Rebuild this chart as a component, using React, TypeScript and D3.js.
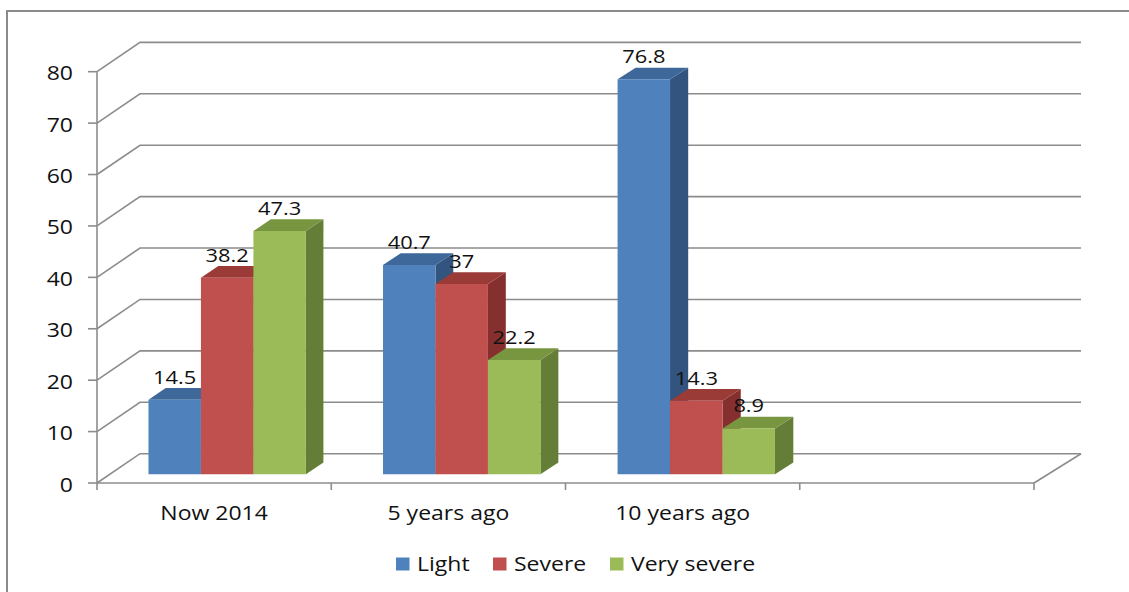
import React from "react";
import * as d3 from "d3";

// Chart data
const categories = ["Now 2014", "5 years ago", "10 years ago", ""];
const seriesNames = ["Light", "Severe", "Very severe"];
const light = [14.5, 40.7, 76.8];
const severe = [38.2, 37, 14.3];
const verySevere = [47.3, 22.2, 8.9];
const yTicks = [0, 10, 20, 30, 40, 50, 60, 70, 80];

const seriesValues = [light, severe, verySevere];

// Face colours per series: front, top, side
const palette = [
  { front: "#4F81BD", top: "#3E6899", side: "#32547E" },
  { front: "#C0504D", top: "#9B3B38", side: "#85302E" },
  { front: "#9BBB59", top: "#789540", side: "#657E37" },
];

const W = 1129;
const H = 592;

// Front plane of the plot and the depth projection
const X0 = 97;
const X1 = 1034;
const Y0 = 483;
const Y80 = 71.7;
const DEPTH_DY = -29.3;
const dxAt = (x: number) => 43 + (4 * (x - X0)) / (X1 - X0);
const BAR_FRONT_T = 0.3;
const BAR_BACK_T = 0.7;
const STRETCH = 1.15;
const FONT = "'Open Sans', 'Liberation Sans', sans-serif";
const GRID = "#8C8C8C";

const x = d3.scaleBand<string>().domain(categories).range([X0, X1]).paddingInner(0).paddingOuter(0);
const y = d3.scaleLinear().domain([0, 80]).range([Y0, Y80]);

const proj = (xf: number, yf: number, t: number): [number, number] => [xf + t * dxAt(xf), yf + t * DEPTH_DY];

function T(props: { x: number; y: number; anchor?: string; size?: number; children: React.ReactNode }) {
  const { x: tx, y: ty, anchor = "start", size = 20, children } = props;
  return (
    <text
      transform={`translate(${tx},${ty}) scale(${STRETCH},1)`}
      textAnchor={anchor}
      fontFamily={FONT}
      fontSize={size}
      fill="#111"
    >
      {children}
    </text>
  );
}

const pts = (p: [number, number][]) => p.map((q) => q.join(",")).join(" ");

export default function App() {
  const band = x.bandwidth();
  const barW = 52.4;
  const clusterW = barW * seriesNames.length;

  const backX1 = proj(X1, Y0, 1)[0];

  const bars: React.ReactNode[] = [];
  const labels: React.ReactNode[] = [];
  categories.forEach((cat, ci) => {
    if (ci >= light.length) return;
    const center = (x(cat) as number) + band / 2;
    const start = center - clusterW / 2;
    seriesValues.forEach((vals, si) => {
      const v = vals[ci];
      const c = palette[si];
      const xf0 = start + si * barW;
      const xf1 = xf0 + barW;
      const yTop = y(v);
      const fl = proj(xf0, Y0, BAR_FRONT_T);
      const fr = proj(xf1, Y0, BAR_FRONT_T);
      const tl = proj(xf0, yTop, BAR_FRONT_T);
      const tr = proj(xf1, yTop, BAR_FRONT_T);
      const btl = proj(xf0, yTop, BAR_BACK_T);
      const btr = proj(xf1, yTop, BAR_BACK_T);
      const bbr = proj(xf1, Y0, BAR_BACK_T);
      bars.push(
        <g key={`${ci}-${si}`}>
          <polygon points={pts([fr, tr, btr, bbr])} fill={c.side} />
          <polygon points={pts([tl, tr, btr, btl])} fill={c.top} />
          <polygon points={pts([fl, fr, tr, tl])} fill={c.front} />
        </g>
      );
      labels.push(
        <T key={`l-${ci}-${si}`} x={(tl[0] + tr[0]) / 2} y={tl[1] - 16} anchor="middle" size={19}>
          {String(v)}
        </T>
      );
    });
  });

  const legendX = [396, 493, 610];

  return (
    <svg
      width={W}
      height={H}
      style={{ position: "absolute", left: 0, top: 0, background: "#fff" }}
    >
      <rect x={0} y={0} width={W} height={H} fill="#fff" />
      {/* chart area border */}
      <rect x={7} y={11} width={W + 50} height={H + 50} fill="none" stroke="#8A8A8A" strokeWidth={2} />

      {/* gridlines on the side and back walls */}
      {yTicks.map((t) => {
        const yf = y(t);
        const [bx, by] = proj(X0, yf, 1);
        return (
          <polyline
            key={`g${t}`}
            points={pts([[X0, yf], [bx, by], [backX1, by]])}
            fill="none"
            stroke={GRID}
            strokeWidth={1.6}
          />
        );
      })}
      {/* floor right edge */}
      <line x1={X1} y1={Y0} x2={backX1} y2={Y0 + DEPTH_DY} stroke={GRID} strokeWidth={1.6} />

      {/* value axis */}
      <line x1={X0} y1={Y80} x2={X0} y2={Y0} stroke={GRID} strokeWidth={1.6} />
      {yTicks.map((t) => (
        <g key={`yt${t}`}>
          <line x1={X0 - 9} y1={y(t)} x2={X0} y2={y(t)} stroke={GRID} strokeWidth={1.6} />
          <T x={73} y={y(t) + 8.5} anchor="end">
            {String(t)}
          </T>
        </g>
      ))}

      {/* category axis */}
      <line x1={X0} y1={Y0} x2={X1} y2={Y0} stroke={GRID} strokeWidth={1.6} />
      {[...categories.map((c) => x(c) as number), X1].map((tx, i) => (
        <line key={`xt${i}`} x1={tx} y1={Y0} x2={tx} y2={Y0 + 7} stroke={GRID} strokeWidth={1.6} />
      ))}
      {categories.map((c) =>
        c ? (
          <T key={`xl${c}`} x={(x(c) as number) + band / 2} y={519.5} anchor="middle">
            {c}
          </T>
        ) : null
      )}

      {bars}
      {labels}

      {/* legend */}
      {seriesNames.map((name, i) => (
        <g key={`lg${name}`}>
          <rect x={legendX[i]} y={557.5} width={13.5} height={13} fill={palette[i].front} />
          <T x={legendX[i] + 21} y={571}>
            {name}
          </T>
        </g>
      ))}
    </svg>
  );
}
